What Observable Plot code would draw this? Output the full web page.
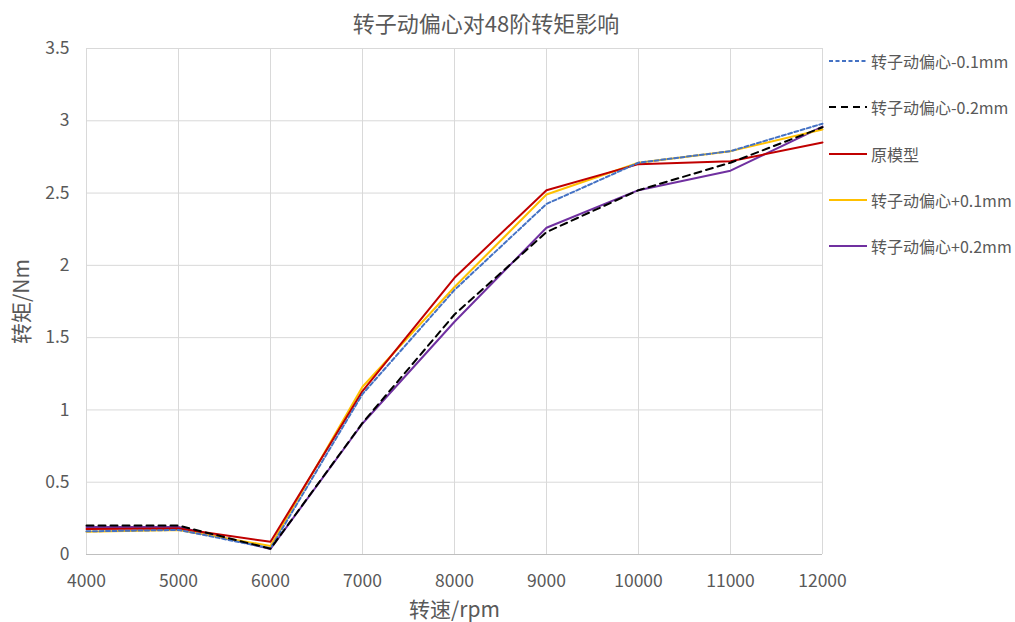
<!DOCTYPE html>
<html><head><meta charset="utf-8">
<script src="https://cdn.jsdelivr.net/npm/d3@7"></script>
<script src="https://cdn.jsdelivr.net/npm/@observablehq/plot@0.6"></script>
<style>
body{margin:0;background:#fff;font-family:"Noto Sans CJK SC",sans-serif;}
#wrap{position:relative;width:1015px;height:622px;}
#chart{position:absolute;left:0;top:26px;}
#title{position:absolute;left:0;top:0;width:1015px;height:44px;line-height:44px;text-align:center;font-size:22px;color:#595959;padding-right:43px;box-sizing:border-box;z-index:2;}
#legend{position:absolute;left:828px;top:49px;z-index:2;}
.item{position:absolute;left:0;height:24px;white-space:nowrap;font-size:16px;color:#595959;display:flex;align-items:center;}
.item svg{margin-right:3px;}
</style></head>
<body><div id="wrap"><div id="chart"></div><div id="title">转子动偏心对48阶转矩影响</div><div id="legend"></div></div>
<script>
const speeds = [4000,5000,6000,7000,8000,9000,10000,11000,12000];
const seriesNames = ["转子动偏心-0.1mm","转子动偏心-0.2mm","原模型","转子动偏心+0.1mm","转子动偏心+0.2mm"];
const minus01 = [0.16,0.17,0.043,1.11,1.83,2.425,2.71,2.79,2.98];
const minus02 = [0.20,0.20,0.04,0.91,1.66,2.23,2.52,2.71,2.955];
const original = [0.176,0.18,0.088,1.13,1.914,2.52,2.70,2.72,2.85];
const plus01 = [0.157,0.17,0.059,1.16,1.85,2.49,2.71,2.79,2.94];
const plus02 = [0.19,0.19,0.038,0.906,1.61,2.26,2.52,2.655,2.96];
const xTicks = [4000,5000,6000,7000,8000,9000,10000,11000,12000];
const yTicks = [0,0.5,1,1.5,2,2.5,3,3.5];
const colors = ["#4472C4","#000000","#C00000","#FFC000","#7030A0"];
const dashes = ["4,2.5","7,5",null,null,null];

const allValues = [minus01,minus02,original,plus01,plus02];
const data = [];
allValues.forEach((vals,i)=>vals.forEach((v,j)=>data.push({series:seriesNames[i],speed:speeds[j],v})));

const lineMarks = seriesNames.map((name,i)=>Plot.line(data.filter(d=>d.series===name),{
  x:"speed",y:"v",stroke:colors[i],strokeWidth:2,strokeDasharray:dashes[i]||undefined
}));

const chart = Plot.plot({
  width:1015,height:596,
  marginLeft:86,marginRight:193,marginTop:22,marginBottom:68,
  style:{fontFamily:"'Noto Sans CJK SC',sans-serif",fontSize:"17.5px",color:"#595959",background:"transparent"},
  x:{domain:[4000,12000]},
  y:{domain:[0,3.5]},
  marks:[
    Plot.gridX(xTicks,{stroke:"#d9d9d9",strokeOpacity:1}),
    Plot.gridY(yTicks,{stroke:"#d9d9d9",strokeOpacity:1}),
    Plot.ruleY([0],{stroke:"#bfbfbf",strokeWidth:1}),
    Plot.axisX({ticks:xTicks,tickSize:0,tickPadding:20,tickFormat:d=>String(d),fontSize:17.5,
      label:"转速/rpm",labelAnchor:"center",labelArrow:"none",labelOffset:62}),
    Plot.axisY({ticks:yTicks,tickSize:0,tickPadding:17,tickFormat:d=>String(d),fontSize:17.5,
      label:"转矩/Nm",labelAnchor:"center",labelArrow:"none",labelOffset:72}),
    ...[4,3,2,0,1].map(i=>lineMarks[i])
  ]
});
d3.select(chart).selectAll("[aria-label='x-axis label'] text, [aria-label='y-axis label'] text").style("font-size","21px");
document.getElementById("chart").appendChild(chart);

const legend = document.getElementById("legend");
const legendTops = [0,46,93,139,185];
seriesNames.forEach((name,i)=>{
  const div = document.createElement("div");
  div.className="item";
  div.style.top = legendTops[i]+"px";
  div.innerHTML = `<svg width="40" height="4"><line x1="1" y1="2" x2="39" y2="2" stroke="${colors[i]}" stroke-width="2" ${dashes[i]?`stroke-dasharray="${dashes[i]}"`:""}/></svg><span>${name}</span>`;
  legend.appendChild(div);
});
</script></body></html>
